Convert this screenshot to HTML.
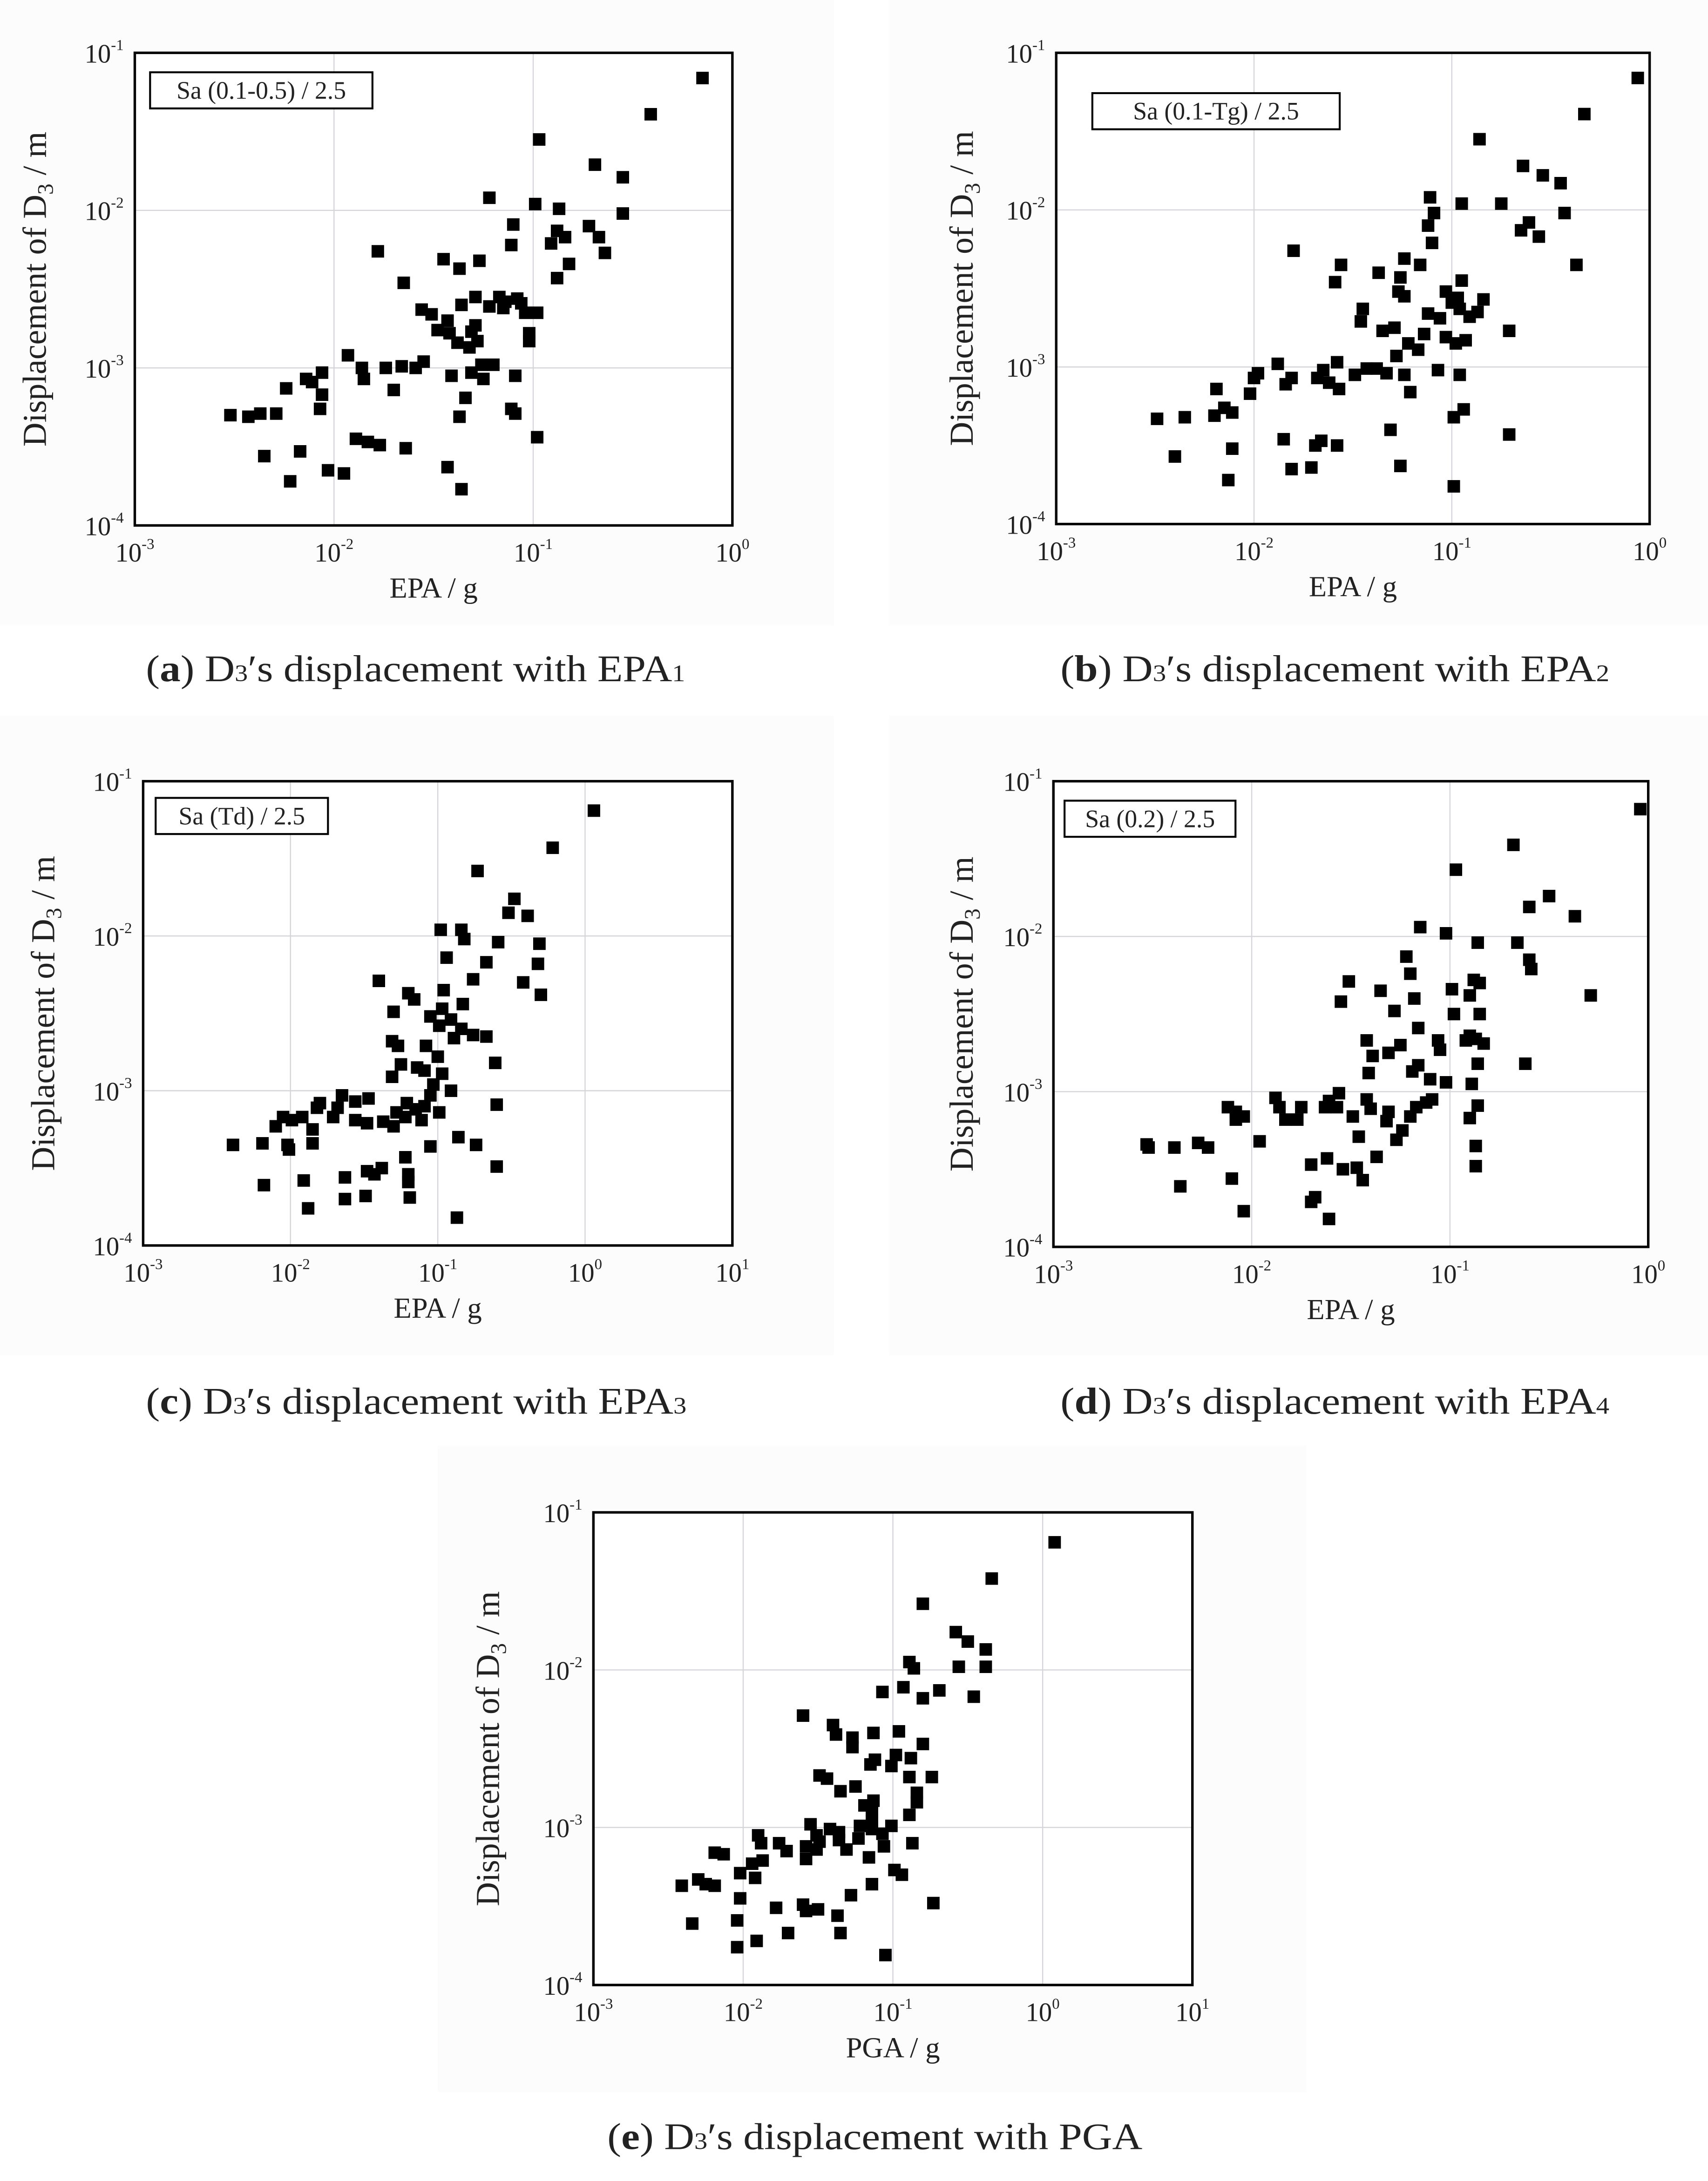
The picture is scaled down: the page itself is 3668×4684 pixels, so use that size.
<!DOCTYPE html>
<html><head><meta charset="utf-8"><title>D3 displacement vs EPA/PGA</title>
<style>
html,body{margin:0;padding:0;background:#fff;}
svg{display:block;}
text{font-family:"Liberation Serif","DejaVu Serif",serif;fill:#222;}
</style></head>
<body>
<svg id="fig" xmlns="http://www.w3.org/2000/svg" width="3668" height="4684" viewBox="0 0 1229 1569" preserveAspectRatio="none">
<rect x="0" y="0" width="1229" height="1569" fill="#fff"/>
<g id="layer"></g>
<text x="105" y="490" font-size="27" textLength="388" lengthAdjust="spacingAndGlyphs">(<tspan font-weight="bold">a</tspan>) D<tspan font-size="17">3</tspan>′s displacement with EPA<tspan font-size="17">1</tspan></text>
<text x="763" y="490" font-size="27" textLength="395" lengthAdjust="spacingAndGlyphs">(<tspan font-weight="bold">b</tspan>) D<tspan font-size="17">3</tspan>′s displacement with EPA<tspan font-size="17">2</tspan></text>
<text x="105" y="1017" font-size="27" textLength="389" lengthAdjust="spacingAndGlyphs">(<tspan font-weight="bold">c</tspan>) D<tspan font-size="17">3</tspan>′s displacement with EPA<tspan font-size="17">3</tspan></text>
<text x="763" y="1017" font-size="27" textLength="395" lengthAdjust="spacingAndGlyphs">(<tspan font-weight="bold">d</tspan>) D<tspan font-size="17">3</tspan>′s displacement with EPA<tspan font-size="17">4</tspan></text>
<text x="437" y="1546" font-size="27" textLength="385" lengthAdjust="spacingAndGlyphs">(<tspan font-weight="bold">e</tspan>) D<tspan font-size="17">3</tspan>′s displacement with PGA</text>
</svg>
<script>
// Data: log10 of acceleration (g) and log10 of displacement (m)
var logEpa1 = [-0.15,-0.41,-0.97,-0.69,-0.55,-1.22,-0.99,-0.87,-0.55,-1.10,-0.72,-0.88,-0.84,-1.11,-0.67,-0.91,-0.64,-1.78,-1.45,-1.27,-0.82,-1.37,-0.88,-1.65,-1.56,-1.51,-1.43,-1.36,-1.29,-1.17,-1.14,-1.08,-1.06,-1.22,-1.15,-1.04,-0.98,-1.48,-1.31,-1.29,-1.42,-1.02,-1.38,-1.28,-1.32,-1.02,-1.93,-1.55,-1.26,-1.20,-1.31,-1.41,-1.25,-1.09,-1.59,-1.66,-1.74,-1.86,-2.06,-2.14,-2.24,-2.11,-1.85,-1.70,-2.06,-2.07,-1.34,-1.11,-2.29,-2.37,-2.52,-2.43,-1.37,-1.09,-0.98,-1.89,-1.83,-1.77,-1.64,-2.17,-2.35,-2.03,-1.95,-1.43,-2.22,-1.36];
var logDisp1 = [-1.16,-1.39,-1.55,-1.71,-1.79,-1.92,-1.96,-1.99,-2.02,-2.09,-2.10,-2.13,-2.17,-2.22,-2.17,-2.21,-2.27,-2.26,-2.31,-2.32,-2.34,-2.37,-2.43,-2.46,-2.63,-2.66,-2.70,-2.60,-2.55,-2.55,-2.58,-2.56,-2.59,-2.61,-2.62,-2.65,-2.65,-2.76,-2.77,-2.73,-2.78,-2.78,-2.84,-2.83,-2.87,-2.83,-2.92,-2.96,-2.98,-2.98,-3.03,-3.05,-3.07,-3.05,-3.00,-2.99,-3.00,-3.00,-3.03,-3.07,-3.13,-3.09,-3.07,-3.14,-3.17,-3.26,-3.19,-3.26,-3.29,-3.29,-3.30,-3.31,-3.31,-3.29,-3.44,-3.45,-3.47,-3.49,-3.51,-3.53,-3.56,-3.65,-3.67,-3.63,-3.72,-3.77];

var logEpa2 = [-0.06,-0.33,-0.86,-0.64,-0.54,-0.45,-1.11,-0.95,-0.75,-0.43,-1.09,-0.61,-0.65,-1.12,-0.56,-1.10,-0.37,-1.80,-1.24,-1.16,-1.56,-1.37,-1.26,-1.59,-0.95,-1.27,-1.03,-0.97,-1.00,-0.96,-0.87,-0.84,-1.24,-1.45,-1.12,-1.06,-0.91,-0.71,-1.46,-1.29,-1.35,-1.14,-1.03,-0.98,-0.93,-1.22,-1.17,-1.28,-1.38,-1.33,-1.24,-1.07,-0.96,-1.88,-1.98,-1.65,-1.58,-1.49,-1.43,-1.68,-1.62,-1.81,-1.84,-2.00,-2.02,-1.57,-1.21,-2.19,-2.15,-2.20,-2.35,-2.49,-2.11,-0.94,-1.31,-0.99,-1.66,-1.58,-0.71,-1.85,-1.69,-2.40,-2.11,-1.26,-1.81,-1.71,-2.13,-0.99];
var logDisp2 = [-1.16,-1.39,-1.55,-1.72,-1.78,-1.83,-1.92,-1.96,-1.96,-2.02,-2.02,-2.08,-2.13,-2.10,-2.17,-2.21,-2.35,-2.26,-2.31,-2.35,-2.35,-2.40,-2.43,-2.46,-2.45,-2.52,-2.52,-2.56,-2.59,-2.63,-2.65,-2.57,-2.55,-2.63,-2.66,-2.69,-2.68,-2.77,-2.71,-2.75,-2.77,-2.79,-2.81,-2.85,-2.83,-2.85,-2.89,-2.93,-3.01,-3.04,-3.05,-3.02,-3.05,-2.98,-3.04,-3.02,-2.97,-3.05,-3.01,-3.07,-3.10,-3.07,-3.11,-3.07,-3.17,-3.14,-3.16,-3.14,-3.26,-3.31,-3.32,-3.33,-3.29,-3.27,-3.40,-3.32,-3.47,-3.50,-3.43,-3.46,-3.50,-3.57,-3.52,-3.63,-3.65,-3.64,-3.72,-3.76];

var logEpa3 = [0.06,-0.22,-0.73,-0.48,-0.52,-0.84,-0.39,-0.98,-0.82,-0.59,-0.31,-0.94,-0.32,-0.67,-1.40,-0.42,-0.76,-0.30,-0.96,-1.20,-1.16,-0.97,-0.83,-1.05,-1.30,-0.91,-0.84,-0.99,-0.76,-0.89,-0.67,-1.31,-1.27,-1.08,-1.00,-0.61,-1.25,-1.14,-1.09,-0.97,-1.31,-1.03,-0.91,-1.05,-1.65,-1.56,-1.47,-1.80,-0.60,-1.21,-1.15,-1.09,-0.99,-1.82,-1.68,-1.92,-2.05,-1.99,-1.71,-1.28,-1.22,-1.56,-1.48,-2.10,-1.30,-1.85,-1.11,-1.37,-2.39,-2.19,-2.02,-1.85,-1.05,-0.86,-0.74,-2.01,-1.22,-1.48,-1.43,-1.63,-0.60,-1.38,-1.91,-2.18,-1.20,-1.20,-1.49,-1.63,-1.19,-1.88,-0.87];
var logDisp3 = [-1.19,-1.43,-1.58,-1.76,-1.85,-1.96,-1.87,-1.96,-2.02,-2.04,-2.05,-2.14,-2.18,-2.17,-2.29,-2.30,-2.28,-2.38,-2.35,-2.37,-2.41,-2.47,-2.44,-2.52,-2.49,-2.54,-2.60,-2.58,-2.64,-2.66,-2.65,-2.68,-2.71,-2.71,-2.78,-2.82,-2.83,-2.85,-2.87,-2.89,-2.91,-2.96,-3.00,-3.03,-3.03,-3.07,-3.05,-3.08,-3.09,-3.08,-3.12,-3.10,-3.14,-3.11,-3.11,-3.17,-3.17,-3.19,-3.17,-3.14,-3.17,-3.19,-3.21,-3.23,-3.23,-3.25,-3.19,-3.20,-3.35,-3.34,-3.35,-3.34,-3.36,-3.30,-3.35,-3.38,-3.43,-3.52,-3.54,-3.56,-3.49,-3.50,-3.58,-3.61,-3.54,-3.59,-3.68,-3.70,-3.69,-3.76,-3.82];

var logEpa4 = [-0.04,-0.68,-0.97,-0.50,-0.60,-0.37,-1.15,-1.02,-0.86,-0.66,-1.22,-0.60,-0.59,-1.20,-0.85,-1.51,-1.55,-0.29,-1.35,-0.99,-0.88,-0.90,-1.18,-1.28,-0.98,-0.85,-1.16,-0.90,-0.92,-1.42,-1.06,-0.87,-0.83,-1.25,-1.05,-1.31,-1.16,-1.19,-1.39,-1.41,-1.10,-0.86,-0.62,-0.89,-1.02,-1.56,-1.12,-1.09,-0.86,-1.88,-1.86,-1.57,-1.42,-1.61,-1.49,-1.75,-1.63,-1.40,-2.12,-2.08,-2.04,-1.31,-1.20,-1.83,-1.32,-2.08,-1.77,-0.90,-1.17,-1.96,-2.22,-2.27,-2.53,-2.39,-2.52,-1.24,-1.46,-1.27,-1.62,-1.47,-1.70,-1.54,-0.87,-0.87,-1.37,-1.44,-2.10,-1.68,-1.70,-2.36,-1.61,-2.04];
var logDisp4 = [-1.18,-1.41,-1.57,-1.74,-1.81,-1.87,-1.94,-1.98,-2.04,-2.04,-2.13,-2.15,-2.21,-2.24,-2.30,-2.29,-2.42,-2.38,-2.35,-2.34,-2.28,-2.38,-2.40,-2.48,-2.50,-2.50,-2.59,-2.64,-2.67,-2.67,-2.67,-2.66,-2.69,-2.70,-2.73,-2.75,-2.83,-2.87,-2.77,-2.88,-2.92,-2.82,-2.82,-2.95,-2.94,-3.01,-3.07,-3.05,-3.09,-3.04,-3.10,-3.10,-3.05,-3.06,-3.16,-3.10,-3.10,-3.11,-3.10,-3.13,-3.16,-3.13,-3.16,-3.18,-3.19,-3.18,-3.18,-3.17,-3.10,-3.32,-3.36,-3.33,-3.34,-3.36,-3.36,-3.25,-3.29,-3.31,-3.43,-3.49,-3.47,-3.50,-3.35,-3.48,-3.42,-3.57,-3.56,-3.68,-3.71,-3.61,-3.82,-3.77];

var logPga = [0.08,-0.34,-0.80,-0.58,-0.50,-0.38,-0.89,-0.86,-0.38,-1.07,-0.69,-0.93,-0.46,-0.80,-0.56,-1.60,-1.40,-1.27,-1.13,-0.96,-1.38,-1.27,-0.80,-1.12,-1.49,-1.44,-1.15,-0.98,-0.88,-1.01,-0.89,-0.74,-1.25,-1.35,-0.84,-1.13,-1.19,-1.14,-0.84,-1.14,-1.14,-0.89,-1.22,-1.01,-1.07,-1.55,-1.42,-1.51,-1.49,-1.36,-1.36,-1.23,-1.90,-1.88,-1.76,-1.71,-1.58,-1.51,-1.87,-1.31,-1.06,-0.87,-1.16,-2.19,-2.13,-1.94,-1.58,-0.94,-0.99,-1.14,-2.41,-2.30,-2.25,-2.19,-2.02,-1.92,-1.28,-2.02,-0.73,-1.78,-1.60,-1.58,-1.37,-1.50,-2.34,-2.04,-1.91,-1.70,-1.35,-2.04,-1.05];
var logDispE = [-1.19,-1.42,-1.58,-1.76,-1.82,-1.87,-1.95,-1.99,-1.98,-2.14,-2.13,-2.11,-2.17,-2.18,-1.98,-2.29,-2.35,-2.43,-2.40,-2.39,-2.41,-2.49,-2.47,-2.57,-2.67,-2.69,-2.60,-2.54,-2.56,-2.61,-2.68,-2.68,-2.74,-2.77,-2.78,-2.83,-2.86,-2.89,-2.84,-2.96,-3.01,-2.92,-2.99,-2.99,-3.04,-2.98,-3.01,-3.05,-3.09,-3.03,-3.08,-3.07,-3.05,-3.10,-3.10,-3.15,-3.12,-3.14,-3.21,-3.14,-3.12,-3.10,-3.19,-3.16,-3.17,-3.23,-3.20,-3.30,-3.27,-3.36,-3.37,-3.33,-3.36,-3.37,-3.29,-3.32,-3.43,-3.45,-3.48,-3.51,-3.49,-3.53,-3.56,-3.52,-3.61,-3.59,-3.72,-3.67,-3.67,-3.76,-3.81];

var xTickExpsA = [-3,-2,-1,0];
var xTickExpsC = [-3,-2,-1,0,1];
var yTickExps = [-1,-2,-3,-4];

var NS = 'http://www.w3.org/2000/svg';
var layer = document.getElementById('layer');
function mk(tag, attrs, parent){
  var e = document.createElementNS(NS, tag);
  for (var k in attrs) e.setAttribute(k, attrs[k]);
  (parent||layer).appendChild(e);
  return e;
}
function drawChart(cfg, xs, ys, xTicks){
  var g = mk('g', {});
  
  
  var bg = mk('rect', {x:cfg.px, y:cfg.py, width:cfg.pw, height:cfg.ph, fill:'#fcfcfc'}, g);
  
  
  var xmin = xTicks[0], xmax = xTicks[xTicks.length-1];
  function sx(v){ return cfg.x0 + (v - xmin) / (xmax - xmin) * (cfg.x1 - cfg.x0); }
  function sy(v){ return cfg.y0 + (-1 - v) / 3 * (cfg.y1 - cfg.y0); }
  var plot = mk('rect', {x:cfg.x0, y:cfg.y0, width:cfg.x1-cfg.x0, height:cfg.y1-cfg.y0, fill:'#fff'}, g);
  
  
  for (var i=1;i<xTicks.length-1;i++){
    var gl = mk('line', {x1:sx(xTicks[i]), x2:sx(xTicks[i]), y1:cfg.y0, y2:cfg.y1, stroke:'#d4d4da', 'stroke-width':0.8}, g);
    
    
  }
  for (var j=1;j<yTickExps.length-1;j++){
    var yl = mk('line', {x1:cfg.x0, x2:cfg.x1, y1:sy(yTickExps[j]), y2:sy(yTickExps[j]), stroke:'#d4d4da', 'stroke-width':0.8}, g);
    
    
  }
  for (var i2=0;i2<xTicks.length;i2++){
    var t = mk('text', {x:sx(xTicks[i2]), y:cfg.y1+26, 'font-size':19, 'text-anchor':'middle'}, g);
    
    
    t.innerHTML = '10<tspan font-size="11" dy="-9">' + (xTicks[i2]<0 ? '-' + (-xTicks[i2]) : xTicks[i2]) + '</tspan>';
  }
  for (var j2=0;j2<yTickExps.length;j2++){
    var ty = mk('text', {x:cfg.x0-8, y:sy(yTickExps[j2])+7, 'font-size':19, 'text-anchor':'end'}, g);
    
    
    ty.innerHTML = '10<tspan font-size="11" dy="-9">' + yTickExps[j2] + '</tspan>';
  }
  var xt = mk('text', {x:(cfg.x0+cfg.x1)/2, y:cfg.y1+52, 'font-size':21, 'text-anchor':'middle'}, g);
  
  
  xt.textContent = cfg.xlabel;
  var yc = (cfg.y0+cfg.y1)/2;
  var yt = mk('text', {x:cfg.ytx, y:yc, 'font-size':24, 'text-anchor':'middle', transform:'rotate(-90 '+cfg.ytx+' '+yc+')'}, g);
  
  
  yt.innerHTML = 'Displacement of D<tspan font-size="16" dy="5">3</tspan><tspan dy="-5"> / m</tspan>';
  for (var k=0;k<xs.length;k++){
    var p = mk('rect', {x:sx(xs[k])-4.5, y:sy(ys[k])-4.5, width:9, height:9, fill:'#000'}, g);
    
    
  }
  var fr = mk('rect', {x:cfg.x0, y:cfg.y0, width:cfg.x1-cfg.x0, height:cfg.y1-cfg.y0, fill:'none', stroke:'#000', 'stroke-width':1.8}, g);
  
  
  if (cfg.legend){
    var lg = mk('g', {}, g);
    
    
    mk('rect', {x:cfg.lx, y:cfg.ly, width:cfg.lw, height:26, fill:'#fff', stroke:'#000', 'stroke-width':1.4}, lg);
    var lt = mk('text', {x:cfg.lx+cfg.lw/2, y:cfg.ly+19, 'font-size':18, 'text-anchor':'middle'}, lg);
    
    
    lt.textContent = cfg.legend;
  }
}
drawChart({id:'a', px:0,py:0,pw:600,ph:450, x0:97,x1:527,y0:38,y1:378, xlabel:'EPA / g', ytx:33, legend:'Sa (0.1-0.5) / 2.5', lx:108,ly:52,lw:160}, logEpa1, logDisp1, xTickExpsA);
drawChart({id:'b', px:640,py:0,pw:589,ph:450, x0:760,x1:1187,y0:38,y1:377, xlabel:'EPA / g', ytx:700, legend:'Sa (0.1-Tg) / 2.5', lx:786,ly:67,lw:178}, logEpa2, logDisp2, xTickExpsA);
drawChart({id:'c', px:0,py:515,pw:600,ph:460, x0:103,x1:527,y0:562,y1:896, xlabel:'EPA / g', ytx:39, legend:'Sa (Td) / 2.5', lx:112,ly:574,lw:124}, logEpa3, logDisp3, xTickExpsC);
drawChart({id:'d', px:640,py:515,pw:589,ph:460, x0:758,x1:1186,y0:562,y1:897, xlabel:'EPA / g', ytx:700, legend:'Sa (0.2) / 2.5', lx:766,ly:576,lw:123}, logEpa4, logDisp4, xTickExpsA);
drawChart({id:'e', px:315,py:1040,pw:625,ph:465, x0:427,x1:858,y0:1088,y1:1428, xlabel:'PGA / g', ytx:359, legend:null}, logPga, logDispE, xTickExpsC);
</script>
</body></html>
